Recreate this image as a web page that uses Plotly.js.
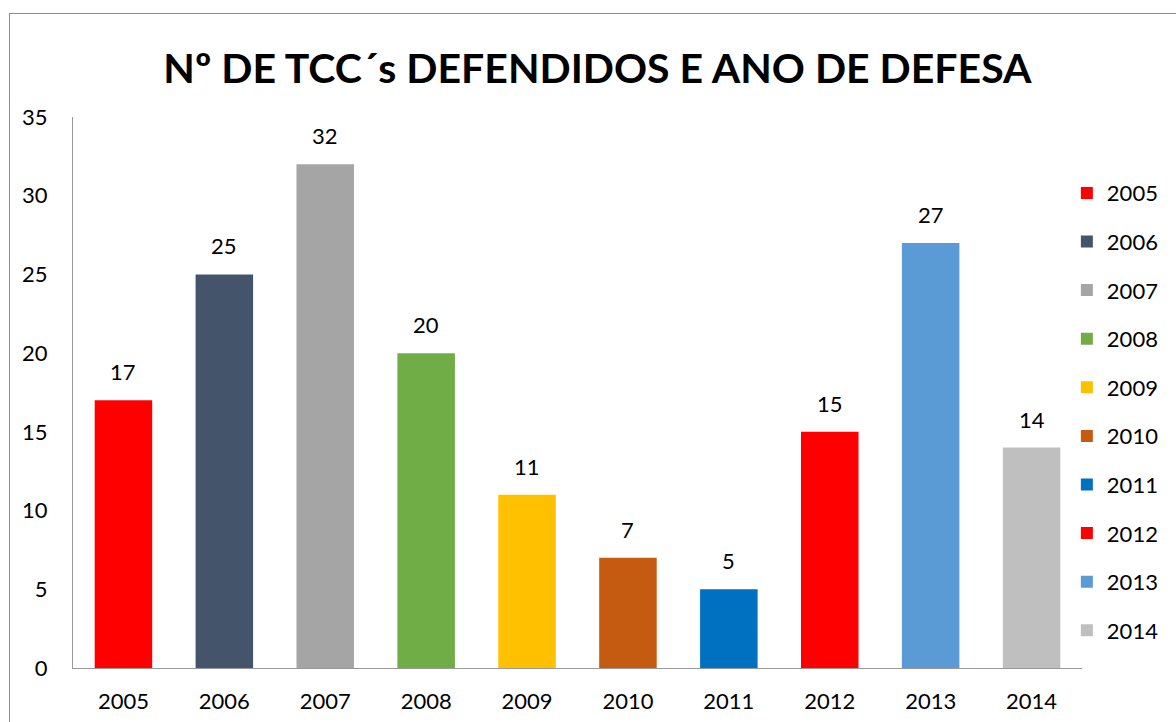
<!DOCTYPE html>
<html><head><meta charset="utf-8">
<script src="https://cdn.plot.ly/plotly-3.0.1.min.js"></script>
<style>
html,body{margin:0;padding:0;background:#fff;}
#wrap{position:relative;width:1176px;height:722px;overflow:hidden;}
#chart{width:1176px;height:722px;}
#frame{position:absolute;left:9px;top:13px;width:1200px;height:800px;border-left:1px solid #8c8c8c;border-top:1px solid #8c8c8c;pointer-events:none;}
</style></head>
<body><div id="wrap"><div id="chart"></div><div id="frame"></div></div>
<script>
const years = ['2005','2006','2007','2008','2009','2010','2011','2012','2013','2014'];
const counts = [17,25,32,20,11,7,5,15,27,14];
const colors = ['#FF0000','#44546A','#A5A5A5','#70AD47','#FFC000','#C55A11','#0070C0','#FF0000','#5B9BD5','#BFBFBF'];
const titleText = 'Nº DE TCC´s DEFENDIDOS E ANO DE DEFESA';

const font = 'Lato, "Open Sans", "DejaVu Sans", sans-serif';
const traces = years.map((y,i)=>({
  type:'bar', x:[y], y:[counts[i]], name:y,
  marker:{color:colors[i]}, legendgroup:'g'+i, hoverinfo:'none'
}));
const annotations = years.map((y,i)=>({
  x:i, y:counts[i], xref:'x', yref:'y', text:String(counts[i]),
  showarrow:false, yanchor:'bottom', yshift:13,
  font:{family:font,size:22,color:'#000'}
}));
const layout = {
  width:1176, height:722,
  paper_bgcolor:'#fff', plot_bgcolor:'#fff',
  margin:{l:73,r:92,t:117,b:54},
  barmode:'overlay', bargap:0.43,
  title:{text:titleText, font:{family:font,size:41,color:'#000',weight:'bold'}, x:0.508, xanchor:'center', y:0.905, yanchor:'middle'},
  xaxis:{type:'category', categoryorder:'array', categoryarray:years, range:[-0.5,9.5], showline:true, linecolor:'#999', linewidth:1, ticks:'', showgrid:false,
         tickfont:{family:font,size:22,color:'#000'}, zeroline:false, ticklabelstandoff:14},
  yaxis:{range:[0,35], dtick:5, showline:true, linecolor:'#999', linewidth:1, ticks:'', showgrid:false,
         tickfont:{family:font,size:22,color:'#000'}, zeroline:false, ticklabelstandoff:20},
  showlegend:true,
  legend:{x:0.985, xanchor:'left', y:0.9, yanchor:'top', traceorder:'grouped', tracegroupgap:17,
          font:{family:font,size:22,color:'#000'}, bgcolor:'rgba(0,0,0,0)'},
  annotations:annotations
};
Plotly.newPlot('chart', traces, layout, {displayModeBar:false, staticPlot:true});
</script></body></html>
